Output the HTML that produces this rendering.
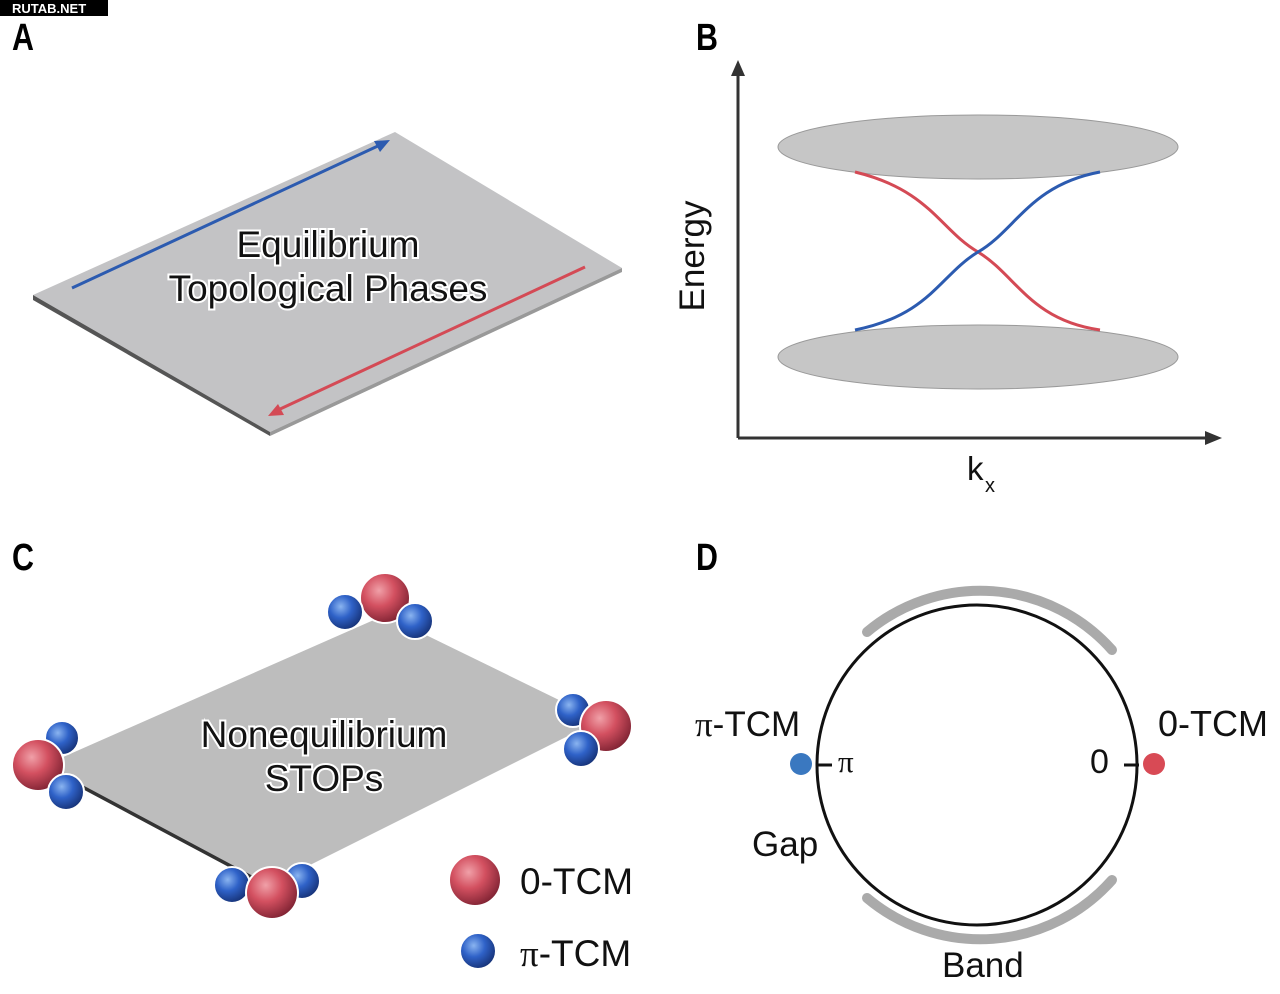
<!DOCTYPE html>
<html><head><meta charset="utf-8"><style>
body{margin:0;background:#fff}
svg{display:block;font-family:"Liberation Sans",sans-serif}
</style></head><body>
<svg width="1280" height="994" viewBox="0 0 1280 994">
<defs>
<radialGradient id="rg" cx="0.38" cy="0.35" r="0.7"><stop offset="0" stop-color="#f0a0a8"/><stop offset="0.45" stop-color="#d35060"/><stop offset="1" stop-color="#7a2030"/></radialGradient>
<radialGradient id="bg" cx="0.38" cy="0.35" r="0.7"><stop offset="0" stop-color="#8ab4f0"/><stop offset="0.45" stop-color="#2f62c8"/><stop offset="1" stop-color="#142e70"/></radialGradient>
</defs>
<rect x="0" y="0" width="108" height="16" fill="#000"/>
<text x="12" y="13" font-size="13" font-weight="bold" fill="#fff">RUTAB.NET</text>
<g font-weight="bold" font-size="38">
<text x="12" y="50" transform="translate(12,50) scale(0.8,1) translate(-12,-50)">A</text>
<text x="696" y="50" transform="translate(696,50) scale(0.8,1) translate(-696,-50)">B</text>
<text x="12" y="570" transform="translate(12,570) scale(0.8,1) translate(-12,-570)">C</text>
<text x="696" y="570" transform="translate(696,570) scale(0.8,1) translate(-696,-570)">D</text>
</g>
<!-- Panel A -->
<polygon points="33,295 395,132 622,268 270,432" fill="#c3c3c5"/>
<polygon points="33,295 270,432 270,436 33,300" fill="#555"/>
<polygon points="270,432 622,268 622,272 270,436" fill="#999"/>
<line x1="72" y1="288" x2="380" y2="145" stroke="#2c5bb0" stroke-width="3"/>
<polygon points="390,140 374,141 380,152" fill="#2c5bb0"/>
<line x1="585" y1="267" x2="278" y2="410" stroke="#d44a55" stroke-width="3"/>
<polygon points="268,416 284,415 278,404" fill="#d44a55"/>
<g font-size="37" text-anchor="middle" fill="#111" stroke="#fff" stroke-width="4" paint-order="stroke">
<text x="328" y="257">Equilibrium</text>
<text x="328" y="301">Topological Phases</text>
</g>
<!-- Panel B -->
<line x1="738" y1="438" x2="738" y2="72" stroke="#333" stroke-width="3"/>
<polygon points="738,60 731,76 745,76" fill="#333"/>
<line x1="738" y1="438" x2="1208" y2="438" stroke="#333" stroke-width="3"/>
<polygon points="1222,438 1205,431 1205,445" fill="#333"/>
<ellipse cx="978" cy="147" rx="200" ry="32" fill="#c6c6c6" stroke="#999" stroke-width="1"/>
<ellipse cx="978" cy="357" rx="200" ry="32" fill="#c6c6c6" stroke="#999" stroke-width="1"/>
<path d="M855,172 C930,190 940,230 978,252 C1016,275 1030,320 1100,330" fill="none" stroke="#d44a55" stroke-width="3"/>
<path d="M855,330 C930,315 940,275 978,252 C1016,230 1030,185 1100,172" fill="none" stroke="#2c5bb0" stroke-width="3"/>
<text transform="translate(704,256) rotate(-90)" font-size="35" text-anchor="middle" fill="#111">Energy</text>
<text x="967" y="480" font-size="33" fill="#111">k</text><text x="985" y="492" font-size="20" fill="#111">x</text>
<!-- Panel C -->
<polygon points="45,765 385,615 600,720 270,885" fill="#bdbdbd"/>
<polygon points="45,765 270,885 270,889 45,769" fill="#333"/>
<g font-size="37" text-anchor="middle" fill="#111" stroke="#fff" stroke-width="4" paint-order="stroke">
<text x="324" y="747">Nonequilibrium</text>
<text x="324" y="791">STOPs</text>
</g>
<g stroke="#fff" stroke-width="2">
<circle cx="385" cy="598" r="25" fill="url(#rg)"/>
<circle cx="345" cy="612" r="18" fill="url(#bg)"/>
<circle cx="415" cy="621" r="18" fill="url(#bg)"/>
<circle cx="62" cy="738" r="17" fill="url(#bg)"/>
<circle cx="38" cy="765" r="26" fill="url(#rg)"/>
<circle cx="66" cy="792" r="18" fill="url(#bg)"/>
<circle cx="573" cy="710" r="17" fill="url(#bg)"/>
<circle cx="606" cy="726" r="26" fill="url(#rg)"/>
<circle cx="581" cy="749" r="18" fill="url(#bg)"/>
<circle cx="232" cy="885" r="18" fill="url(#bg)"/>
<circle cx="302" cy="881" r="18" fill="url(#bg)"/>
<circle cx="272" cy="893" r="26" fill="url(#rg)"/>
<circle cx="475" cy="880" r="26" fill="url(#rg)"/>
<circle cx="478" cy="951" r="18" fill="url(#bg)"/>
</g>
<text x="520" y="894" font-size="37" fill="#111">0-TCM</text>
<text x="520" y="966" font-size="37" fill="#111"><tspan font-family="Liberation Serif">π</tspan>-TCM</text>
<!-- Panel D -->
<circle cx="977" cy="765" r="160" fill="none" stroke="#111" stroke-width="3"/>
<path d="M867,632 A176,176 0 0 1 1112,650" fill="none" stroke="#aaa" stroke-width="10" stroke-linecap="round"/>
<path d="M867,898 A176,176 0 0 0 1112,880" fill="none" stroke="#aaa" stroke-width="10" stroke-linecap="round"/>
<line x1="816" y1="765" x2="832" y2="765" stroke="#111" stroke-width="3"/>
<line x1="1124" y1="765" x2="1139" y2="765" stroke="#111" stroke-width="3"/>
<circle cx="801" cy="764" r="11" fill="#3a78c0"/>
<circle cx="1154" cy="764" r="11" fill="#d84a55"/>
<text x="838" y="772" font-size="31" font-family="Liberation Serif" fill="#111">π</text>
<text x="1090" y="773" font-size="34" fill="#111">0</text>
<text x="695" y="736" font-size="35" fill="#111"><tspan font-family="Liberation Serif">π</tspan>-TCM</text>
<text x="1158" y="736" font-size="36" fill="#111">0-TCM</text>
<text x="752" y="856" font-size="35" fill="#111">Gap</text>
<text x="942" y="977" font-size="35" fill="#111">Band</text>
</svg>
</body></html>
